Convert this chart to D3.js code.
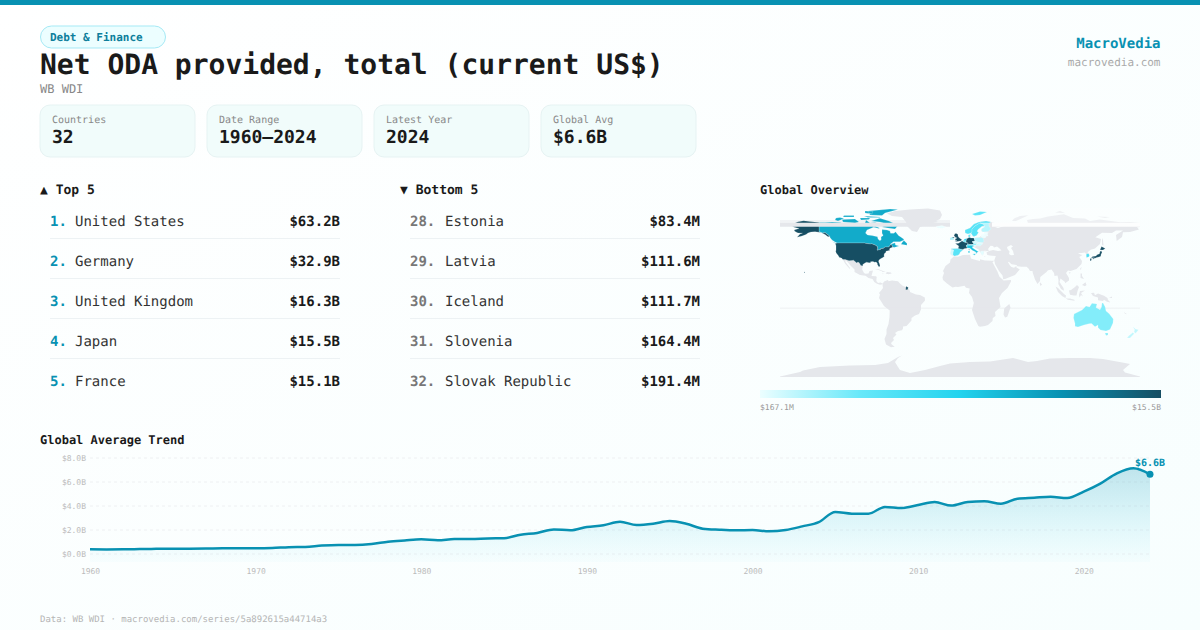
<!DOCTYPE html>
<html>
<head>
<meta charset="utf-8">
<script src="https://cdn.jsdelivr.net/npm/d3@7"></script>
<style>
  html, body { margin: 0; padding: 0; background: #fff; }
  svg { display: block; text-rendering: geometricPrecision; }
  text { font-family: "DejaVu Sans Mono", monospace; }
</style>
</head>
<body>
<svg id="chart" width="1200" height="630"></svg>
<script>
const statLabels = ["Countries", "Date Range", "Latest Year", "Global Avg"];
const statValues = ["32", "1960–2024", "2024", "$6.6B"];

const topRanks = ["1.", "2.", "3.", "4.", "5."];
const topNames = ["United States", "Germany", "United Kingdom", "Japan", "France"];
const topValues = ["$63.2B", "$32.9B", "$16.3B", "$15.5B", "$15.1B"];
const bottomRanks = ["28.", "29.", "30.", "31.", "32."];
const bottomNames = ["Estonia", "Latvia", "Iceland", "Slovenia", "Slovak Republic"];
const bottomValues = ["$83.4M", "$111.6M", "$111.7M", "$164.4M", "$191.4M"];

const years = d3.range(1960, 2025);
const globalAvg = [0.35, 0.34, 0.35, 0.37, 0.39, 0.40, 0.40, 0.41, 0.44, 0.44,
  0.43, 0.45, 0.53, 0.55, 0.66, 0.71, 0.71, 0.79, 0.98, 1.09,
  1.18, 1.10, 1.21, 1.20, 1.26, 1.28, 1.57, 1.71, 2.01, 1.93,
  2.21, 2.35, 2.65, 2.37, 2.48, 2.71, 2.48, 2.07, 1.98, 1.93,
  1.96, 1.85, 1.96, 2.26, 2.62, 3.46, 3.32, 3.32, 3.88, 3.79,
  4.04, 4.29, 3.99, 4.29, 4.35, 4.15, 4.57, 4.65, 4.73, 4.62,
  5.15, 5.82, 6.68, 7.10, 6.60];
const yTicks = [0, 2, 4, 6, 8];
const xTicks = [1960, 1970, 1980, 1990, 2000, 2010, 2020];

const legendStops = ["#ecfeff", "#67e8f9", "#22d3ee", "#0891b2", "#164e63"];
const legendLabels = ["$167.1M", "$15.5B"];

// country outlines, [lon, lat], rough hand traced
const landRings = [
  // greenland
  [[-73,78.5],[-65,81],[-50,82.5],[-32,83.6],[-20,81.5],[-18,77],[-20,73],[-24,71],[-22,70],[-32,68],[-40,65],[-43,60],[-48,61],[-53,66],[-54,70],[-58,75],[-68,76]],
  // mexico + central america
  [[-117.1,32.5],[-114.8,32.5],[-111,31.3],[-108.2,31.4],[-106.5,31.8],[-104.7,30.3],[-103.3,29],[-102.5,29.8],[-101,29.5],[-99.2,26.5],[-97.2,26],[-97.8,22.5],[-96,19],[-94.5,18.2],[-91.5,18.5],[-90.5,21],[-87,21.5],[-88,18],[-88.5,16],[-84,15.8],[-83.3,14.9],[-83.7,11],[-82,9],[-79.5,9.5],[-77.5,8.6],[-78.2,7.5],[-80,7.3],[-83,8.3],[-85.7,10],[-87.5,13],[-91.5,14],[-94.5,16.2],[-100,17],[-105.5,20],[-105.5,22.5],[-109.5,26.5],[-112.5,30],[-114.7,31.7],[-114.5,30],[-110,24],[-110,23],[-112,25],[-115,28.5]],
  [[-85,22],[-82,23.1],[-77,21],[-74.2,20.2],[-77.5,19.9],[-78,20.7],[-82,22.2]],
  [[-74.4,18.4],[-73,19.9],[-69,19.5],[-68.4,18.6],[-71.5,17.8]],
  [[-78.3,18.4],[-76.3,18.2],[-77,17.8]],
  // south america
  [[-77.5,8.6],[-75.5,10.7],[-72,12],[-71.5,10.8],[-68,11.5],[-62,10.7],[-60,8.5],[-57,6],[-52,4.5],[-50,1],[-50,0],[-44,-2.5],[-40,-3],[-35.2,-5.5],[-35,-8.5],[-39,-13],[-39,-17.5],[-41,-22],[-45,-23.5],[-48.5,-26],[-48.5,-28.5],[-53.5,-34],[-57,-34.5],[-57,-36.5],[-58,-38.3],[-62,-39],[-65,-41],[-63.5,-42.5],[-67,-46],[-66,-48],[-69,-51],[-68.3,-52.5],[-65.3,-54.8],[-69,-55.3],[-74,-52.5],[-75.5,-47],[-73.5,-42],[-73.5,-37.5],[-71.5,-32],[-70.5,-25],[-70.3,-18.4],[-76,-14],[-81,-6],[-80,-2.5],[-81,-1],[-78.5,2],[-77,4],[-77.5,7]],
  // africa
  [[-6,35.8],[-2,35.2],[3,36.9],[10,37.3],[11,33.5],[15,32.3],[20,31],[20,32.8],[25,31.6],[32,31.2],[34.2,31.3],[32.5,29.8],[35.8,23.5],[37.3,20.8],[39.5,15.3],[43.2,12],[43.3,11.5],[51,12],[51,10.5],[47.5,4],[42,-1],[39,-6],[40.5,-15],[35,-20],[35.5,-24],[32.8,-26],[32.5,-29],[28,-33],[25,-34],[20,-34.8],[18.3,-34],[15,-27],[12,-18],[13.8,-11],[12,-5],[9,-1],[9.7,3.5],[6,4.3],[4.5,6.3],[-2,5],[-4.5,5.2],[-7.5,4.4],[-13,8.5],[-17,12],[-17.5,14.7],[-16,19],[-17,21],[-14.5,26],[-10,29.5],[-9.5,32.5]],
  [[49.3,-12],[50.5,-15.5],[47.3,-24.8],[45,-25.5],[43.5,-22.5],[44.3,-16.3]],
  // eurasia
  [[-9,37],[-9.5,38.8],[-8.8,43.2],[-1.8,43.4],[-1.2,46],[-4.7,48.4],[-1.5,48.7],[1.5,50.8],[4,52],[7,53.5],[8.5,54],[8.3,57],[10.5,57.6],[10,55],[11,54],[14,54],[19,54.5],[21,56],[24,57.5],[24,59.3],[30,60],[23,60],[21.5,61],[21.5,63],[25,65.3],[22,65.8],[18,62.5],[17,60.7],[18.5,59.5],[16.5,56.5],[14,55.5],[12.8,56],[11,59],[8,58],[5.2,59],[5,62],[10,64],[14,68],[19,70],[26,71],[31,70],[41,67],[40,65.5],[35,64.5],[38,64],[44,66],[44,68],[54,68.5],[60,69],[68,68.5],[67,72],[73,73],[80,73.5],[88,75.5],[104,77.7],[113,74],[125,73.5],[130,71],[140,72.5],[160,69.7],[170,70],[180,69],[180,65],[177,64.7],[179,62.5],[170,60],[163,59.7],[162,55],[156.7,51],[156,57],[163,61.5],[156,61.5],[152,59],[142,59.3],[135.3,54.7],[141,53],[140,48],[135,43.5],[130.7,42.3],[127.5,39.8],[129.4,37],[129,35.2],[126.5,34.5],[126.5,37.5],[125,39.5],[121.5,39],[118,39],[120.5,37.5],[122.5,37],[119.3,35],[122,31],[121.5,28],[116.5,23],[110.5,21],[108,21.5],[106,19],[109,14],[109,11.5],[105,8.7],[105,10],[102.5,12],[100.5,13.5],[99.5,10],[103.5,4],[104,1.3],[101,3],[98.3,8],[98.5,12],[97.5,16.5],[94.5,16],[94,19],[91.5,22.5],[88,21.7],[86.5,20],[80.3,15],[80,11],[77.5,8],[75,12.5],[72.8,19],[72.5,21],[70,21],[68.5,23.5],[66.5,25.3],[61.5,25.2],[57.3,25.8],[56.5,27],[51.5,27.8],[48.8,30.2],[48,29.8],[50,26.5],[51.5,25],[54,24.2],[56.3,26],[56.5,24.5],[59.8,22.5],[55,17],[45,13],[43.2,12.8],[42.5,16.5],[39,21],[35,28],[34.8,29.5],[34.2,31.3],[35.8,36],[32,36.2],[30,36.5],[27.3,37],[26.5,39.5],[29,41],[33,42],[38,41],[41.5,41.6],[39,44],[37,45.5],[34,44.5],[33,46],[30.5,46.3],[28,43],[29,41.2],[26,40.7],[24,40.7],[23.5,38],[22.5,36.5],[21,38.5],[19.5,41],[19,42.2],[14,45],[12.3,45.3],[13,43.5],[16,41.8],[18.5,40.2],[16.8,39],[16,38],[15.8,40],[12.3,41.7],[10,43.8],[7.5,43.8],[4,43.3],[3,42],[0,39.5],[-0.5,38],[-2,36.8],[-5.5,36]],
  // caspian, cut out by evenodd
  [[47,45],[51,47],[53,45.5],[51,44],[53,41],[54,37],[51,36.7],[49,38],[49.5,40.5],[47.5,43]],
  // islands
  [[95.5,5.5],[98,4],[104,-2],[106,-3.5],[105.5,-6],[102,-4],[98,0]],
  [[105.5,-6.5],[110,-6.5],[114.5,-7.7],[114.5,-8.7],[108,-7.8]],
  [[109,1.5],[111,2],[115,5],[117,7],[119,5],[117.5,1],[116.5,-3.5],[114,-3.5],[110,-2.8]],
  [[119.5,-5.5],[119,-3],[120,1],[125,1.5],[121,-1],[123,-4.5],[121,-3]],
  [[131,-1],[134,-0.8],[135,-3.3],[138,-1.6],[144,-3.8],[147.5,-6],[148,-8],[150.5,-10.5],[147,-9.7],[144,-7.7],[143,-9],[138,-8.3],[138,-5.5],[133,-4]],
  [[120.5,18.5],[122,18.4],[122,16],[124,13],[120.5,14]],
  [[122,7],[125.5,9.7],[126.5,7],[125,5.7]],
  [[120,23],[121.5,25.2],[121,22]],
  [[108.7,19.2],[110.5,20],[110,18.3]],
  [[80,9.7],[82,7.5],[80.5,6],[79.8,8]],
  [[142,54],[143,52],[143.5,46.5],[142,47],[142,51]],
  [[52,71],[56,71],[68.5,76.8],[60,76],[54,73.5]],
  [[95,79.5],[105,79],[100,81]],
  [[137,75.5],[150,75],[145,74]],
  [[24,35.5],[26,35.2],[24,35]],
  [[164,-20],[167,-22.3],[165,-21.8]],
  [[152,-4.5],[152,-6],[149,-6]],
  // antarctica
  [[-180,-84.5],[-160,-80],[-157,-78.5],[-140,-75],[-110,-73.5],[-85,-73],[-72,-71],[-62,-65],[-58,-63.5],[-62,-66],[-65,-70],[-62,-75],[-60,-78],[-50,-81],[-35,-78],[-20,-74],[-10,-71.5],[10,-70],[30,-69.5],[53,-66],[68,-70],[77,-69],[90,-66.5],[110,-66],[130,-66],[143,-67],[165,-71],[170,-72],[163,-78],[165,-80.5],[180,-84.5],[180,-85],[-180,-85]]
];

// values in $B, the ones not in the lists are guessed from the fill colour
const northAmerica = [
  { name: "Canada", value: 3.2, rings: [
    [[-141,69.6],[-135,69.5],[-128,70],[-120,69.5],[-115,68],[-108,68],[-100,68],[-95,69],[-94,72],[-90,69],[-85,69.5],[-81.5,68.5],[-86,66],[-87,64.5],[-93,62],[-94.5,59],[-92.5,57],[-88,56.5],[-82.5,55.2],[-82,53],[-80,51.3],[-78.8,52.5],[-79,55],[-76.8,56.5],[-78,58.8],[-78,62.4],[-73,62],[-70,61],[-69.5,58.8],[-66,58.8],[-64.5,60.2],[-61.5,56.5],[-57,53.5],[-55.8,52],[-60,50.2],[-66.5,50.2],[-70,47.5],[-65,49.2],[-64.5,47],[-61,46],[-66,44.5],[-67,44.9],[-67.8,45.7],[-68.3,47.3],[-69.2,47.4],[-70,46.7],[-70.8,45.4],[-71.5,45],[-75,45],[-76.8,43.6],[-79.1,43.5],[-79,42.8],[-82.7,41.7],[-83,42.1],[-82.4,43],[-82.5,45.3],[-84.1,46.5],[-84.8,46.9],[-88.4,48.3],[-89.6,48],[-94.6,48.7],[-95,49],[-123,49],[-125,50],[-128,52],[-130,54.5],[-130,55.5],[-135,59.5],[-137.5,58.9],[-141,60.3]],
    [[-80,73.7],[-71,71],[-67,69],[-62,66.5],[-65,63],[-72,64],[-78,65],[-73,68],[-80,70],[-89,71]],
    [[-90,77],[-78,76.5],[-75,79],[-62,82.5],[-70,83],[-92,81]],
    [[-95,79],[-88,78],[-87,80.5],[-95,81]],
    [[-96,76],[-80,75],[-80,74.5],[-92,74.5]],
    [[-117,70],[-105,69],[-101,70],[-105,73],[-118,72.5]],
    [[-125,72],[-122,71],[-116,73.5],[-120,74.5],[-124,74]],
    [[-117,75],[-106,75],[-106,76.5],[-116,76.5]],
    [[-100,74],[-90,74],[-91,72.5],[-99,72]],
    [[-87,65],[-81,63.5],[-80.5,64],[-85,66]],
    [[-59,47.7],[-53,46.7],[-53,48.5],[-56,51.5],[-57.5,50]],
    [[-128,50.5],[-123.5,48.4],[-125,48.7]]
  ] },
  { name: "United States", value: 63.2, rings: [
    [[-124.7,48.4],[-123,49],[-95,49],[-94.6,48.7],[-89.6,48],[-88.4,48.3],[-84.8,46.9],[-84.1,46.5],[-82.5,45.3],[-82.4,43],[-83,42.1],[-82.7,41.7],[-79,42.8],[-79.1,43.5],[-76.8,43.6],[-75,45],[-71.5,45],[-70.8,45.4],[-70,46.7],[-69.2,47.4],[-68.3,47.3],[-67.8,45.7],[-67,44.9],[-70,43.8],[-70.7,42.7],[-70,41.7],[-74,40.7],[-74.2,39.5],[-75.5,38.5],[-76,37],[-75.7,35.5],[-77.5,34.2],[-79,33.5],[-81,32],[-81.4,30.5],[-80.5,28.2],[-80,26.5],[-80.4,25.2],[-81.2,25.3],[-82.6,27.5],[-82.8,29],[-84,30],[-85.5,29.8],[-87,30.4],[-89.5,30.2],[-89.3,29.2],[-91,29.2],[-93.5,29.8],[-95,29],[-97.2,27.5],[-97.2,26],[-99.2,26.5],[-101,29.5],[-102.5,29.8],[-103.3,29],[-104.7,30.3],[-106.5,31.8],[-108.2,31.4],[-111,31.3],[-114.8,32.5],[-117.1,32.5],[-118.5,34],[-120.6,34.6],[-122,36.8],[-123.8,39],[-124.3,40.4],[-124,42],[-124,46.2]],
    [[-141,69.6],[-141,60.3],[-137.5,58.9],[-135,59.5],[-130,55.5],[-132,55.2],[-135,57.5],[-139,59.5],[-145,60.3],[-149,60],[-152,59],[-154,57.5],[-158,56],[-163,54.8],[-160,58],[-157.5,58.8],[-162,59],[-165,60.5],[-166,62],[-161,63.5],[-165,64.5],[-168,65.6],[-162,66.5],[-166.5,68.3],[-162,70.2],[-156.5,71.3],[-150,70.5]],
    [[-156,20.2],[-155,19.7],[-155.7,19],[-156,19.6]]
  ] }
];

const restCountries = [
  { name: "Norway", value: 0.65, rings: [[[5.2,59],[5,62],[10,64],[14,68],[19,70],[26,71],[31,70],[29,69],[25,69],[20,69],[15,66],[12,63],[12,60],[11,59],[8,58]], [[12,78],[20,80.5],[27,80],[20,77],[15,76.6]]] },
  { name: "Sweden", value: 0.65, rings: [[[11,59],[12,60],[12,63],[15,66],[20,69],[24,67.5],[24,66],[22,65.8],[18,62.5],[17,60.7],[18.5,59.5],[16.5,56.5],[14,55.5],[12.8,56]]] },
  { name: "Finland", value: 0.26, rings: [[[21.5,61],[21.5,63],[25,65.3],[24,66],[24,67.5],[20,69],[25,69],[29,69],[29,66],[31,63],[28,60.5],[23,60]]] },
  { name: "Iceland", value: 0.1117, rings: [[[-24,65.5],[-18,66.5],[-14,65],[-18,63.4],[-22.5,64]]] },
  { name: "Ireland", value: 0.29, rings: [[[-10,52],[-6,52.2],[-6,54],[-7.5,55.2],[-10,54]]] },
  { name: "United Kingdom", value: 16.3, rings: [[[-5.5,50],[1.3,51.2],[1.7,52.8],[0,53.5],[-1.5,55],[-2,56],[-2,57.6],[-3.5,58.6],[-5,58.5],[-6,56.5],[-4.8,54.8],[-3,54],[-4.5,53.3],[-5,51.7],[-3,51.3]], [[-7.5,55],[-5.5,54.7],[-6,54],[-7.5,54.2]]] },
  { name: "Spain", value: 0.65, rings: [[[-9,43],[-8.8,43.2],[-1.8,43.4],[3,42.3],[0,39.5],[-0.5,38],[-2,36.8],[-5.5,36],[-7.3,37.2],[-7,39.5],[-6.5,42]]] },
  { name: "Portugal", value: 0.21, rings: [[[-9,37],[-7.3,37.2],[-7,39.5],[-6.5,42],[-8.8,42],[-9.5,38.8]]] },
  { name: "France", value: 15.1, rings: [[[-1.8,43.4],[-1.2,46],[-4.7,48.4],[-1.5,48.7],[1.5,50.8],[2.5,51],[4.2,50],[8.2,49],[7.5,47.5],[6,46.2],[7.5,44],[4,43.3],[3,42.5]], [[8.6,43],[9.5,42.8],[9.2,41.4]], [[-54,5.8],[-51.7,4.5],[-52.5,2.3],[-54.3,2.3]]] },
  { name: "Netherlands", value: 1.6, rings: [[[3.5,51.4],[4.5,53],[7,53.4],[6,51]]] },
  { name: "Belgium", value: 0.5, rings: [[[2.5,51],[3.5,51.4],[6,51],[6.3,49.5],[4.2,50]]] },
  { name: "Germany", value: 32.9, rings: [[[6,51],[7,53.5],[8.5,54],[9,54.8],[11,54],[14,54],[15,51],[12,50.3],[13.8,48.7],[13,47.5],[7.6,47.6],[8.2,49],[6.3,49.5]]] },
  { name: "Denmark", value: 0.65, rings: [[[8.3,57],[10.5,57.6],[10,55],[9,54.8],[8.5,55]]] },
  { name: "Switzerland", value: 1.0, rings: [[[6,46.2],[7.5,47.5],[9.5,47.5],[10.4,46.5],[8.5,46]]] },
  { name: "Austria", value: 0.41, rings: [[[9.5,47.3],[13,47.5],[13.8,48.7],[17,48.6],[16,46.8],[10.5,46.8]]] },
  { name: "Italy", value: 2.0, rings: [[[7,44],[7,45.8],[10.5,46.8],[13.7,46.5],[13.7,45.7],[12.3,45.3],[12.5,44],[13.5,43.5],[16,41.8],[18.5,40.2],[16.8,39.5],[16,38],[15.8,40],[12.3,41.7],[10,43.8],[8,44]], [[12.5,38],[15.5,38.2],[15,36.7]], [[8.2,41],[9.7,41],[9.5,39],[8.5,39]]] },
  { name: "Poland", value: 0.26, rings: [[[14,54],[19,54.5],[23,54.3],[24,50.7],[22.5,49.2],[19,49.5],[15,51]]] },
  { name: "Czechia", value: 0.21, rings: [[[12,50.3],[15,51],[18.8,49.5],[17,48.6],[13.8,48.7]]] },
  { name: "Hungary", value: 0.21, rings: [[[17,48.6],[18.8,48.2],[22.5,48.3],[22,47.5],[20,46],[16,46.8]]] },
  { name: "Slovak Republic", value: 0.1914, rings: [[[17,48.6],[18.8,49.5],[22.5,49.2],[22.5,48.3],[18.8,48.2]]] },
  { name: "Slovenia", value: 0.1644, rings: [[[13.7,46.5],[16,46.8],[15.5,45.5],[13.7,45.7]]] },
  { name: "Estonia", value: 0.0834, rings: [[[24,59.3],[28,59.5],[27.5,57.7],[24,57.9]]] },
  { name: "Latvia", value: 0.1116, rings: [[[21,56],[21.5,57.5],[24,57.9],[27.5,57.7],[28,56],[25,56.3]]] },
  { name: "Lithuania", value: 0.17, rings: [[[21,56],[25,56.3],[26.5,55.5],[25,54],[23,54.3],[21,55.2]]] },
  { name: "Greece", value: 0.18, rings: [[[20,39.7],[21,40.8],[26,41],[24,40.7],[23.5,38],[22.5,36.5],[21,38.5]]] },
  { name: "Korea, Rep.", value: 0.81, rings: [[[126.3,37.7],[128.3,38.6],[129.4,37],[129,35.2],[126.5,34.5]]] },
  { name: "Japan", value: 15.5, rings: [[[131,34],[132.5,35.5],[136,36],[137,37.3],[139.5,38.2],[140,40.5],[141.3,41.3],[142,39.5],[141,37.5],[140.8,35.7],[139,35],[136.7,34.5],[135,33.7],[133,34.2]], [[140,42],[141.5,45.4],[145.3,43.5],[143,42]], [[130,33.5],[131.8,33.5],[131,31],[130.2,31.2]], [[132.5,33.7],[134.5,34.2],[134,33.3],[133,32.8]]] },
  { name: "Australia", value: 0.41, rings: [[[114,-22],[113.5,-26],[115,-31.5],[115,-34.3],[118,-35],[124,-33],[129,-31.7],[131.5,-31.5],[135,-34.7],[138,-33],[138,-35.5],[140.5,-38],[146,-39],[150,-37.5],[153,-31],[153.3,-27],[149,-21.5],[146,-19],[145.2,-15],[143,-11],[142,-11],[141.5,-15],[140,-17.7],[136,-15.5],[137,-12],[132,-11.3],[129.5,-15],[126,-14],[122,-18],[118,-20]], [[145,-41],[148,-41],[148,-43],[146,-43.5]]] },
  { name: "New Zealand", value: 0.24, rings: [[[172.8,-34.5],[175.5,-37],[178.5,-37.7],[176.8,-40],[175,-41.5],[174,-39],[174.8,-38]], [[172.8,-40.5],[174.2,-41.7],[171,-45],[170,-46],[167,-46],[168.5,-44]]] }
];

// strips the source map shows where shapes wrap round the antimeridian
const wrapPale = [[[-180,69.3],[-10,69.3],[-10,72],[-180,72]]];
const wrapBand = [[[-180,65.3],[-10,65.3],[-10,69.3],[-180,69.3]]];
const wrapThin = [[[-180,-15.8],[180,-15.8],[180,-16.4],[-180,-16.4]]];
const wrapGap = [[[32,65.3],[180,65.3],[180,69.3],[32,69.3]]];
const wrapVeil = [[[32,69.3],[180,69.3],[180,84],[32,84]]];

const svg = d3.select("#chart");
const mono = '"DejaVu Sans Mono", monospace';
const accent = "#0891b2";
const ink = "#1a1a1a";

const defs = svg.append("defs");
const bgGrad = defs.append("linearGradient").attr("id", "bg")
  .attr("x1", 0).attr("y1", 0).attr("x2", 1).attr("y2", 1);
bgGrad.append("stop").attr("offset", "0%").attr("stop-color", "#ffffff");
bgGrad.append("stop").attr("offset", "100%").attr("stop-color", "#f7fefe");

const legendGrad = defs.append("linearGradient").attr("id", "legendGrad");
legendStops.forEach((c, i) => {
  legendGrad.append("stop").attr("offset", (i / (legendStops.length - 1) * 100) + "%").attr("stop-color", c);
});

svg.append("rect").attr("width", 1200).attr("height", 630).attr("fill", "url(#bg)");
svg.append("rect").attr("width", 1200).attr("height", 5).attr("fill", accent);

function label(x, y, str, size, fill, weight, anchor) {
  return svg.append("text")
    .attr("x", x).attr("y", y)
    .attr("font-size", size)
    .attr("fill", fill)
    .attr("font-weight", weight || "normal")
    .attr("text-anchor", anchor || "start")
    .text(str);
}

// header
svg.append("rect").attr("x", 40.5).attr("y", 26).attr("width", 125).attr("height", 22).attr("rx", 11)
  .attr("fill", "#ecfeff").attr("stroke", "#a5e9f5");
label(50, 41, "Debt & Finance", 11, "#0e7f9c", "bold");
label(40, 74, "Net ODA provided, total (current US$)", 28, ink, "bold");
label(40, 93, "WB WDI", 12, "#888");
label(1160.5, 48, "MacroVedia", 14, accent, "bold", "end");
label(1160.5, 66, "macrovedia.com", 11, "#aaa", "normal", "end");

// stat cards
statLabels.forEach((d, i) => {
  const x = 40 + i * 167;
  svg.append("rect").attr("x", x).attr("y", 105).attr("width", 155).attr("height", 52).attr("rx", 10)
    .attr("fill", "#f1fcfb").attr("stroke", "#e6f3f3");
  label(x + 12, 123, d, 10, "#888");
  label(x + 12, 143, statValues[i], 18, ink, "bold");
});

// ranking lists
function drawList(x0, rankX, nameX, endX, title, ranks, names, values, rankColor) {
  label(x0, 194, title, 13, ink, "bold");
  names.forEach((n, i) => {
    const y = 226 + i * 40;
    label(rankX, y, ranks[i], 14, rankColor, "bold");
    label(nameX, y, n, 14, "#333");
    label(endX, y, values[i], 14, ink, "bold", "end");
    if (i < names.length - 1) {
      svg.append("line").attr("x1", rankX).attr("x2", endX).attr("y1", y + 12.5).attr("y2", y + 12.5)
        .attr("stroke", "#edf2f4");
    }
  });
}
drawList(40, 50, 75, 340, "▲ Top 5", topRanks, topNames, topValues, accent);
drawList(400, 410, 445, 700, "▼ Bottom 5", bottomRanks, bottomNames, bottomValues, "#777");

// map
label(760, 194, "Global Overview", 12, ink, "bold");
const projection = d3.geoEquirectangular().scale(180 / Math.PI).translate([960, 292]);
const ringLine = d3.line().x(d => projection(d)[0]).y(d => projection(d)[1]);
const ringsPath = rings => rings.map(r => ringLine(r) + "Z").join("");
const colorScale = d3.scaleSequentialLog(d3.piecewise(d3.interpolateRgb, legendStops))
  .domain([0.1671, 15.5]).clamp(true);
const mapG = svg.append("g");
const landFill = "#e5e7eb";

mapG.append("path").attr("d", ringsPath(landRings)).attr("fill", landFill).attr("fill-rule", "evenodd");
mapG.append("path").attr("d", ringsPath(wrapPale)).attr("fill", landFill).attr("opacity", 0.45);
mapG.append("path").attr("d", ringsPath(wrapVeil)).attr("fill", "#fdfefe").attr("opacity", 0.4);
mapG.append("path").attr("d", ringsPath(wrapGap)).attr("fill", "#fdfefe");

mapG.selectAll("path.na").data(northAmerica).enter().append("path")
  .attr("class", "na")
  .attr("d", d => ringsPath(d.rings))
  .attr("fill", d => colorScale(d.value))
  .attr("stroke", "#fff").attr("stroke-width", 0.2);

mapG.append("path").attr("d", ringsPath(wrapBand)).attr("fill", landFill);
mapG.append("path").attr("d", ringsPath(wrapThin)).attr("fill", landFill).attr("opacity", 0.8);

mapG.selectAll("path.rest").data(restCountries).enter().append("path")
  .attr("class", "rest")
  .attr("d", d => ringsPath(d.rings))
  .attr("fill", d => colorScale(d.value))
  .attr("stroke", "#fff").attr("stroke-width", 0.2);

svg.append("rect").attr("x", 760).attr("y", 390).attr("width", 401).attr("height", 8).attr("fill", "url(#legendGrad)");
label(760, 410, legendLabels[0], 8, "#999");
label(1161, 410, legendLabels[1], 8, "#999", "normal", "end");

// trend
label(40, 444, "Global Average Trend", 12, ink, "bold");
const x = d3.scaleLinear().domain([1960, 2024]).range([90, 1150]);
const y = d3.scaleLinear().domain([0, 8]).range([553.5, 457.5]);
const areaBase = 562;

const areaGrad = defs.append("linearGradient").attr("id", "areaGrad")
  .attr("gradientUnits", "userSpaceOnUse")
  .attr("x1", 0).attr("x2", 0).attr("y1", y(7.1)).attr("y2", areaBase);
areaGrad.append("stop").attr("offset", "0%").attr("stop-color", accent).attr("stop-opacity", 0.24);
areaGrad.append("stop").attr("offset", "100%").attr("stop-color", "#22d3ee").attr("stop-opacity", 0.02);

const yAxis = d3.axisLeft(y).tickValues(yTicks).tickSize(0).tickPadding(4)
  .tickFormat(d => "$" + d3.format(".1f")(d) + "B");
const yG = svg.append("g").attr("transform", "translate(90,0)").call(yAxis);
yG.select(".domain").remove();
yG.selectAll("text").attr("font-family", mono).attr("font-size", 8).attr("fill", "#bbb");
yG.selectAll(".tick").append("line").attr("x1", 0).attr("x2", 1060)
  .attr("stroke", "#eef0f2").attr("stroke-dasharray", "3,3");

const xAxis = d3.axisBottom(x).tickValues(xTicks).tickSize(0).tickPadding(0).tickFormat(d3.format("d"));
const xG = svg.append("g").attr("transform", "translate(0,568)").call(xAxis);
xG.select(".domain").remove();
xG.selectAll("text").attr("font-family", mono).attr("font-size", 8).attr("fill", "#bbb");

const area = d3.area().x((d, i) => x(years[i])).y0(areaBase).y1(d => y(d)).curve(d3.curveMonotoneX);
const line = d3.line().x((d, i) => x(years[i])).y(d => y(d)).curve(d3.curveMonotoneX);
svg.append("path").attr("d", area(globalAvg)).attr("fill", "url(#areaGrad)");
svg.append("path").attr("d", line(globalAvg)).attr("fill", "none").attr("stroke", accent).attr("stroke-width", 2.5);

const lastIdx = globalAvg.length - 1;
svg.append("circle").attr("cx", x(years[lastIdx])).attr("cy", y(globalAvg[lastIdx])).attr("r", 3.5).attr("fill", accent);
label(x(years[lastIdx]), y(globalAvg[lastIdx]) - 8, "$6.6B", 10, accent, "bold", "middle");

label(40, 622, "Data: WB WDI · macrovedia.com/series/5a892615a44714a3", 9, "#b5b5b5");
</script>
</body>
</html>
